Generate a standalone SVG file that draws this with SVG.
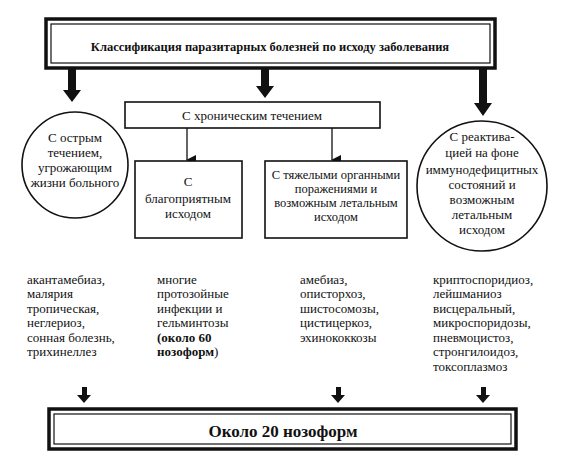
<svg xmlns="http://www.w3.org/2000/svg" width="561" height="460" viewBox="0 0 561 460" font-family="'Liberation Serif', 'DejaVu Serif', serif">
<style>
text{font-family:'Liberation Serif','DejaVu Serif',serif;fill:#111;}
.t{font-size:13px;}
.s{font-size:12.5px;}
.c{text-anchor:middle;}
.b{font-weight:bold;}
.box{fill:#fff;stroke:#111;stroke-width:1.6;}
.thick{fill:none;stroke:#111;stroke-width:3.5;}
.thin{fill:none;stroke:#111;stroke-width:1.2;}
.ln{stroke:#111;stroke-width:1.3;fill:none;}
.ah{fill:#111;}
</style>
<defs>
<marker id="tri" markerWidth="10" markerHeight="10" refX="5" refY="9" orient="auto" markerUnits="userSpaceOnUse" viewBox="0 0 10 10">
<path d="M0,0 L10,0 L5,10 Z" fill="#111"/>
</marker>
</defs>
<rect width="561" height="460" fill="#fff"/>

<g id="title">
<rect x="46" y="19" width="449" height="49" class="thick"/>
<rect x="51" y="24" width="439" height="39" class="thin"/>
<text x="270" y="51" class="b c" font-size="12.5">Классификация паразитарных болезней по исходу заболевания</text>
</g>

<g id="connectors">
<path class="ah" d="M68,68 H76 V90 H81 L72,102 L63,90 H68 Z"/>
<path class="ah" d="M261,68 H269 V86 H274 L265,98 L256,86 H261 Z"/>
<path class="ah" d="M479,68 H487 V103 H492 L483,116 L474,103 H479 Z"/>
<line x1="187" y1="128" x2="187" y2="160" class="ln" marker-end="url(#tri)"/>
<line x1="332" y1="128" x2="332" y2="160" class="ln" marker-end="url(#tri)"/>
<path class="ah" d="M82,387 H87 V395 H91 L84,403 L77,395 H82 Z"/>
<path class="ah" d="M336,387 H341 V395 H345 L338,403 L331,395 H336 Z"/>
<path class="ah" d="M481,387 H486 V395 H490 L483,403 L476,395 H481 Z"/>
</g>

<g id="chronic">
<rect x="125" y="102" width="255" height="26" class="box"/>
<text x="252" y="120" class="t c">С хроническим течением</text>
</g>

<g id="acute">
<circle cx="75" cy="165" r="53" class="box"/>
<text x="75" y="142" class="t c">С острым</text>
<text x="75" y="157" class="t c">течением,</text>
<text x="75" y="172" class="t c">угрожающим</text>
<text x="75" y="187" class="t c">жизни больного</text>
</g>

<g id="favorable">
<rect x="135" y="161" width="107" height="77" class="box"/>
<text x="188" y="186" class="t c">С</text>
<text x="188" y="203" class="t c">благоприятным</text>
<text x="188" y="218" class="t c">исходом</text>
</g>

<g id="severe">
<rect x="265" y="161" width="142" height="77" class="box"/>
<text x="336" y="179" class="s c">С тяжелыми органными</text>
<text x="336" y="193" class="s c">поражениями и</text>
<text x="336" y="207" class="s c">возможным летальным</text>
<text x="336" y="221" class="s c">исходом</text>
</g>

<g id="reactivation">
<circle cx="482" cy="186" r="65" class="box"/>
<text x="482" y="141" class="t c">С реактива-</text>
<text x="482" y="157" class="t c">цией на фоне</text>
<text x="482" y="174" class="t c">иммунодефицитных</text>
<text x="482" y="189" class="t c">состояний и</text>
<text x="482" y="204" class="t c">возможным</text>
<text x="482" y="219" class="t c">летальным</text>
<text x="482" y="234" class="t c">исходом</text>
</g>

<g id="list1">
<text x="27" y="284" class="t">акантамебиаз,</text>
<text x="27" y="298" class="t">малярия</text>
<text x="27" y="313" class="t">тропическая,</text>
<text x="27" y="327" class="t">неглериоз,</text>
<text x="27" y="342" class="t">сонная болезнь,</text>
<text x="27" y="356" class="t">трихинеллез</text>
</g>

<g id="list2">
<text x="157" y="284" class="t">многие</text>
<text x="157" y="298" class="t">протозойные</text>
<text x="157" y="313" class="t">инфекции и</text>
<text x="157" y="327" class="t">гельминтозы</text>
<text x="157" y="342" class="t"><tspan class="b">(около 60</tspan></text>
<text x="157" y="356" class="t"><tspan class="b">нозоформ</tspan>)</text>
</g>

<g id="list3">
<text x="300" y="284" class="t">амебиаз,</text>
<text x="300" y="298" class="t">описторхоз,</text>
<text x="300" y="313" class="t">шистосомозы,</text>
<text x="300" y="327" class="t">цистицеркоз,</text>
<text x="300" y="342" class="t">эхинококкозы</text>
</g>

<g id="list4">
<text x="433" y="284" class="t">криптоспоридиоз,</text>
<text x="433" y="298" class="t">лейшманиоз</text>
<text x="433" y="313" class="t">висцеральный,</text>
<text x="433" y="327" class="t">микроспоридозы,</text>
<text x="433" y="342" class="t">пневмоцистоз,</text>
<text x="433" y="356" class="t">стронгилоидоз,</text>
<text x="433" y="371" class="t">токсоплазмоз</text>
</g>

<g id="total">
<rect x="49" y="409" width="467" height="40" class="thick"/>
<rect x="54" y="414" width="457" height="30" class="thin"/>
<text x="283" y="437" class="b c" font-size="17">Около 20 нозоформ</text>
</g>
</svg>
